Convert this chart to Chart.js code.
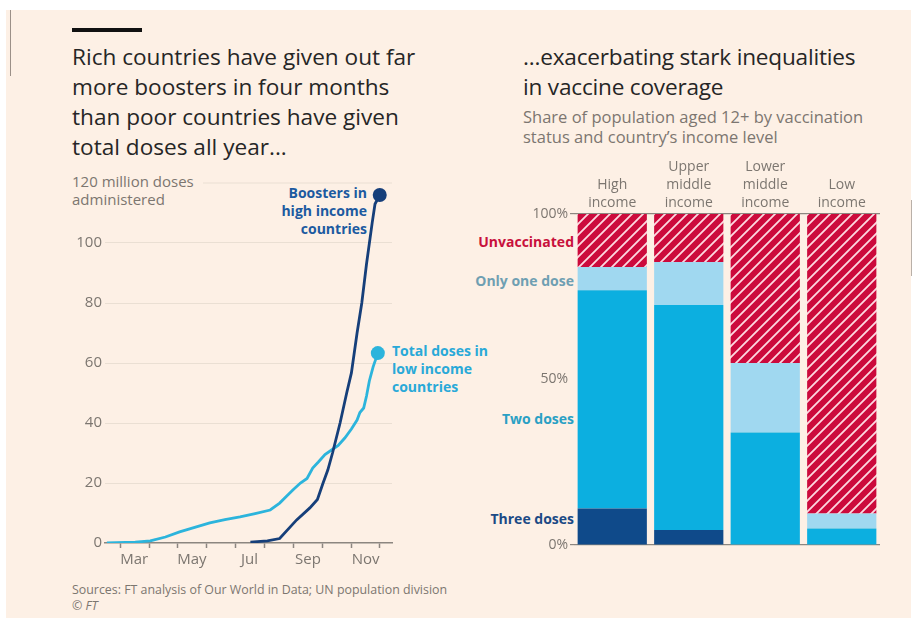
<!DOCTYPE html>
<html>
<head>
<meta charset="utf-8">
<script src="https://cdn.jsdelivr.net/npm/chart.js@4"></script>
<style>
  body { margin: 0; width: 915px; height: 618px; background: #fff; position: relative; overflow: hidden; font-family: "Open Sans", Lato, sans-serif; }
  #panel { position: absolute; left: 6px; top: 10px; width: 905px; height: 608px; background: #fdf0e5; }
  .abs { position: absolute; white-space: nowrap; }
  .title { font-size: 22.6px; line-height: 30px; color: #262626; }
  .grey { color: #7c7670; }
  .bold { font-weight: bold; }
  canvas { position: absolute; }
</style>
</head>
<body>
<div id="panel"></div>
<div class="abs" style="left:10px;top:10px;width:1px;height:66px;background:#9b9088"></div>
<div class="abs" style="left:911px;top:200px;width:1px;height:76px;background:#b9b0a8"></div>
<div class="abs" style="left:72px;top:28px;width:70px;height:4px;background:#111"></div>

<div class="abs title" style="left:72px;top:42px">Rich countries have given out far<br>more boosters in four months<br>than poor countries have given<br>total doses all year...</div>
<div class="abs title" style="left:523px;top:42px;letter-spacing:-0.2px">...exacerbating stark inequalities<br>in vaccine coverage</div>
<div class="abs grey" style="left:523px;top:107px;font-size:16.5px;line-height:20px">Share of population aged 12+ by vaccination<br>status and country’s income level</div>

<div class="abs grey" style="left:72px;top:172px;font-size:15px;line-height:18px">120 million doses<br>administered</div>
<div class="abs bold" style="right:548px;top:184px;font-size:14px;line-height:18px;color:#1c5aa0;text-align:right">Boosters in<br>high income<br>countries</div>
<div class="abs bold" style="left:392px;top:342px;font-size:14px;line-height:18px;color:#29a9d8">Total doses in<br>low income<br>countries</div>
<div class="abs grey" style="left:72px;top:582px;font-size:12.4px;line-height:16px">Sources: FT analysis of Our World in Data; UN population division<br><i>© FT</i></div>

<div class="abs bold" style="right:341px;top:232px;font-size:14px;color:#c8103c;text-align:right">Unvaccinated</div>
<div class="abs bold" style="right:341px;top:271px;font-size:14px;color:#6f9fb2;text-align:right">Only one dose</div>
<div class="abs bold" style="right:341px;top:409px;font-size:14px;color:#2aa0c4;text-align:right">Two doses</div>
<div class="abs bold" style="right:341px;top:509px;font-size:14px;color:#1b4a85;text-align:right">Three doses</div>

<canvas id="left" width="340" height="410" style="left:60px;top:170px"></canvas>
<canvas id="right" width="395" height="410" style="left:520px;top:150px"></canvas>

<script>
// dias del año 2021 (1 ene = 0) y millones de dosis
const boosterDays = [197, 215, 228, 246, 260, 268, 274, 279, 284, 292, 299, 304, 310, 315, 320, 326, 329, 334];
const boosterValues = [0.3, 0.7, 1.5, 7.7, 11.7, 14.5, 20, 24.3, 30, 40, 50, 56.7, 70, 80, 93, 106.7, 113, 116];
const lowDays = [45, 75, 91, 107, 122, 138, 154, 170, 186, 202, 218, 228, 235, 242, 250, 257, 263, 269, 276, 283, 290, 297, 304, 310, 313, 317, 320, 323, 327, 332];
const lowValues = [0, 0.3, 0.7, 2, 3.7, 5.2, 6.7, 7.8, 8.7, 9.8, 11, 13.3, 15.5, 17.7, 20, 21.5, 25, 27, 29.5, 31, 32.5, 35, 38, 41, 43.5, 45, 49, 54, 58.7, 63.3];
const monthStarts = [59, 90, 120, 151, 181, 212, 243, 273, 304, 334];
const monthLabels = { 74: 'Mar', 135: 'May', 196: 'Jul', 258: 'Sep', 319: 'Nov' };

const incomeGroups = [['High', 'income'], ['Upper', 'middle', 'income'], ['Lower', 'middle', 'income'], ['Low', 'income']];
const threeDoses = [11, 4.5, 0, 0];
const twoDoses = [66, 68, 34, 5];
const oneDose = [7, 13, 21, 4.5];
const unvaccinated = [16, 14.5, 45, 90.5];
const pctTicks = [0, 50, 100];

const grisTexto = '#7c7670';
const grisEje = '#8c8680';
const fuente = 'Open Sans';

const lineaSuperior = {
    id: 'lineaSuperior',
    beforeDatasetsDraw(chart) {
        const y = chart.scales.y.getPixelForValue(120);
        const ctx = chart.ctx;
        ctx.save();
        ctx.strokeStyle = '#eadfd3';
        ctx.lineWidth = 1;
        ctx.beginPath();
        ctx.moveTo(203 - 60, y);
        ctx.lineTo(chart.chartArea.right, y);
        ctx.stroke();
        ctx.restore();
    }
};

new Chart(document.getElementById('left'), {
    type: 'line',
    data: {
        datasets: [{
            label: 'Boosters in high income countries',
            data: boosterDays.map((d, i) => ({ x: d, y: boosterValues[i] })),
            borderColor: '#163f7a',
            borderWidth: 2.8,
            pointRadius: (c) => c.dataIndex === boosterDays.length - 1 ? 7 : 0,
            pointBackgroundColor: '#163f7a',
            pointBorderWidth: 0,
            tension: 0
        }, {
            label: 'Total doses in low income countries',
            data: lowDays.map((d, i) => ({ x: d, y: lowValues[i] })),
            borderColor: '#2cb4dc',
            borderWidth: 2.8,
            pointRadius: (c) => c.dataIndex === lowDays.length - 1 ? 7 : 0,
            pointBackgroundColor: '#2cb4dc',
            pointBorderWidth: 0,
            tension: 0
        }]
    },
    options: {
        responsive: false,
        animation: false,
        layout: { padding: { top: 13, right: 8, left: 0, bottom: 0 } },
        plugins: { legend: { display: false }, tooltip: { enabled: false } },
        scales: {
            x: {
                type: 'linear',
                min: 43,
                max: 347,
                afterBuildTicks: (s) => {
                    const vals = monthStarts.concat(Object.keys(monthLabels).map(Number));
                    s.ticks = vals.sort((a, b) => a - b).map(v => ({ value: v }));
                },
                afterFit: (s) => { s.height = 37; },
                grid: {
                    drawOnChartArea: false,
                    tickLength: 5,
                    tickWidth: 1.5,
                    tickColor: (c) => c.tick && monthStarts.includes(c.tick.value) ? grisEje : 'rgba(0,0,0,0)'
                },
                border: { color: grisEje, width: 1.5 },
                ticks: {
                    autoSkip: false,
                    maxRotation: 0,
                    padding: 3,
                    color: grisTexto,
                    font: { family: fuente, size: 15 },
                    callback: (v) => monthLabels[v] || ''
                }
            },
            y: {
                min: 0,
                max: 120,
                afterFit: (s) => { s.width = 45; },
                grid: {
                    drawTicks: false,
                    color: (c) => c.tick && (c.tick.value === 0 || c.tick.value === 120) ? 'rgba(0,0,0,0)' : '#eadfd3'
                },
                border: { display: false },
                ticks: {
                    stepSize: 20,
                    padding: 3,
                    color: grisTexto,
                    font: { family: fuente, size: 15 },
                    callback: (v) => v === 120 ? '' : v
                }
            }
        }
    },
    plugins: [lineaSuperior]
});

// patrón rayado para los no vacunados
function rayado() {
    const t = 11;
    const c = document.createElement('canvas');
    c.width = t; c.height = t;
    const g = c.getContext('2d');
    g.fillStyle = '#cc0a3c';
    g.fillRect(0, 0, t, t);
    g.strokeStyle = 'rgba(255,228,234,0.95)';
    g.lineWidth = 1.8;
    g.beginPath();
    g.moveTo(0, t); g.lineTo(t, 0);
    g.moveTo(-t / 2, t / 2); g.lineTo(t / 2, -t / 2);
    g.moveTo(t / 2, t * 1.5); g.lineTo(t * 1.5, t / 2);
    g.stroke();
    return g.createPattern(c, 'repeat');
}

new Chart(document.getElementById('right'), {
    type: 'bar',
    data: {
        labels: incomeGroups,
        datasets: [
            { label: 'Three doses', data: threeDoses, backgroundColor: '#0f4a8a' },
            { label: 'Two doses', data: twoDoses, backgroundColor: '#0cafe0' },
            { label: 'Only one dose', data: oneDose, backgroundColor: '#a0d8f0' },
            { label: 'Unvaccinated', data: unvaccinated, backgroundColor: rayado() }
        ]
    },
    options: {
        responsive: false,
        animation: false,
        layout: { padding: { top: 0, right: 35, left: 0, bottom: 15 } },
        plugins: { legend: { display: false }, tooltip: { enabled: false } },
        datasets: { bar: { categoryPercentage: 1, barPercentage: 0.905, borderWidth: 0 } },
        scales: {
            x: {
                position: 'top',
                stacked: true,
                afterFit: (s) => { s.height = 64; },
                grid: { display: false },
                border: { display: false },
                ticks: {
                    padding: -6,
                    color: grisTexto,
                    font: { family: fuente, size: 14, lineHeight: 1.29 }
                }
            },
            y: {
                stacked: true,
                min: 0,
                max: 100,
                afterBuildTicks: (s) => { s.ticks = pctTicks.map(v => ({ value: v })); },
                afterFit: (s) => { s.width = 54; },
                grid: {
                    tickLength: 4,
                    lineWidth: 1.2,
                    color: (c) => c.tick && c.tick.value === 50 ? 'rgba(0,0,0,0)' : grisEje
                },
                border: { display: false },
                ticks: {
                    padding: 2,
                    color: grisTexto,
                    font: { family: fuente, size: 14 },
                    callback: (v) => v + '%'
                }
            }
        }
    }
});
</script>
</body>
</html>
